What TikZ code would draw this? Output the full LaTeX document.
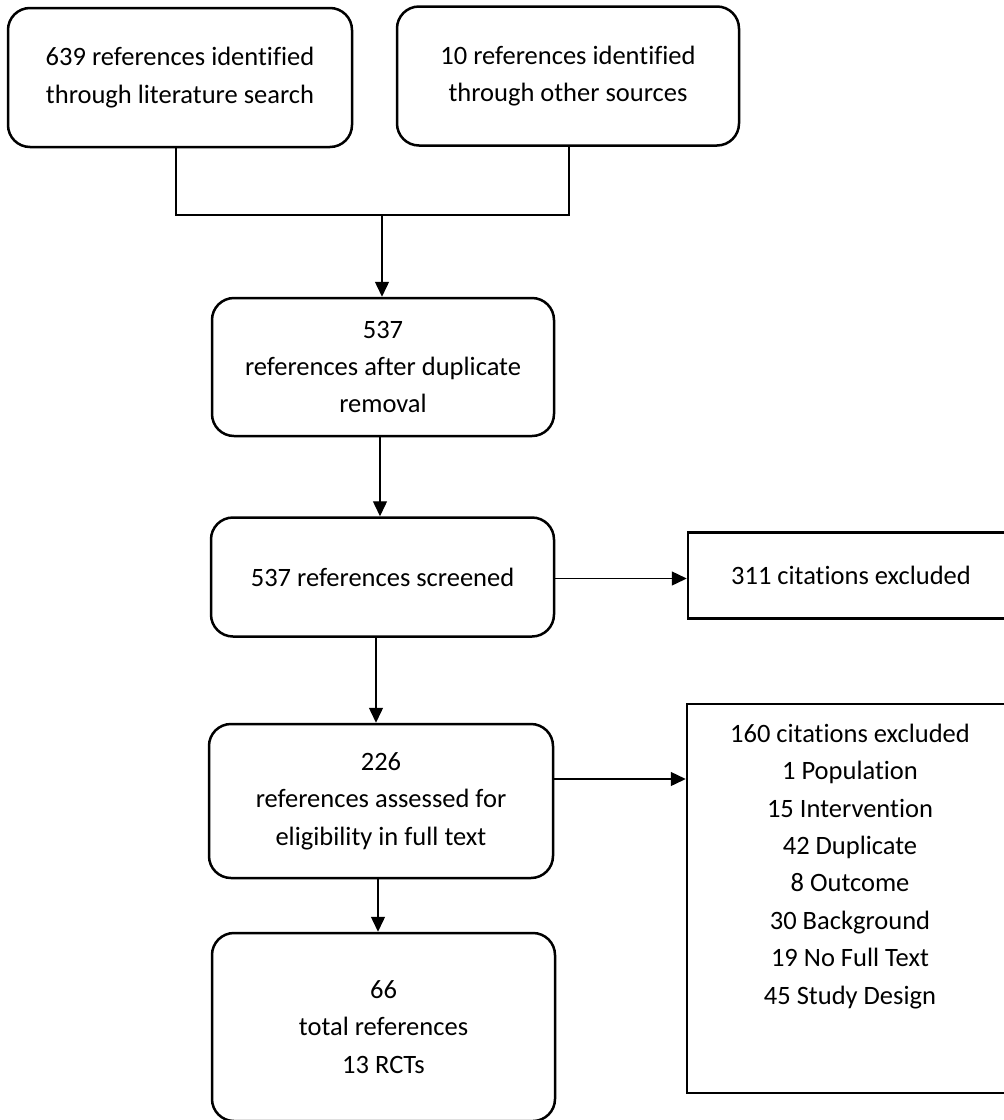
\documentclass[tikz,border=0pt]{standalone}
\usepackage{fontspec}
\setmainfont[Ligatures=NoCommon]{Carlito}
\usetikzlibrary{arrows.meta}
\begin{document}
\begin{tikzpicture}[x=1pt,y=-1pt,
  every node/.style={font=\fontsize{26.5}{37.4}\selectfont, text=black},
  rbox/.style={draw=black, line width=2.5pt, rounded corners=22pt, align=center, inner sep=0pt},
  sbox/.style={draw=black, line width=2.5pt, align=center, inner sep=0pt},
  thinline/.style={draw=black, line width=1.1pt},
  arr/.style={draw=black, line width=1.4pt, -{Triangle[length=15pt,width=14pt]}}
]
\useasboundingbox (0,0) rectangle (1004,1120);
\clip (0,0) rectangle (1004,1120);
\fill[white] (0,0) rectangle (1004,1120);

\node[rbox, minimum width=344pt, minimum height=139pt] (b1) at (180,77.5)
  {639 references identified\\through literature search};
\node[rbox, minimum width=342pt, minimum height=139pt] (b2) at (568,76)
  {10 references identified\\through other sources};
\node[rbox, minimum width=342pt, minimum height=138pt] (b3) at (383,367)
  {537\\references after duplicate\\removal};
\node[rbox, minimum width=343pt, minimum height=119pt] (b4) at (382.5,577)
  {537 references screened};
\node[sbox, minimum width=326pt, minimum height=86pt] (b5) at (851,575.5)
  {311 citations excluded};
\node[rbox, minimum width=344pt, minimum height=154pt] (b6) at (381,801)
  {226\\references assessed for\\eligibility in full text};
\node[sbox, minimum width=326pt, minimum height=389pt,
  label={[anchor=north, align=center, inner sep=0pt, yshift=-21pt,
          font=\fontsize{26.5}{37.4}\selectfont]north:{160 citations excluded\\1 Population\\15 Intervention\\42 Duplicate\\8 Outcome\\30 Background\\19 No Full Text\\45 Study Design}}]
  (b7) at (850,898.5) {};
\node[rbox, minimum width=343pt, minimum height=188pt] (b8) at (383.5,1027)
  {66\\total references\\13 RCTs};

\coordinate (j) at (382,215);
\draw[thinline] ([xshift=-4pt]b1.south) |- (j) -| ([xshift=1pt]b2.south);
\draw[arr] (j) -- (j |- b3.north);
\draw[arr] ([xshift=-3pt]b3.south) -- ([xshift=-3pt]b3.south |- b4.north);
\draw[arr] ([yshift=-1.5pt]b4.east) -- ([yshift=-1.5pt]b4.east -| b5.west);
\draw[arr] ([xshift=-6.5pt]b4.south) -- ([xshift=-6.5pt]b4.south |- b6.north);
\draw[arr] ([yshift=22pt]b6.east) -- ([yshift=22pt]b6.east -| b7.west);
\draw[arr] ([xshift=-3pt]b6.south) -- ([xshift=-3pt]b6.south |- b8.north);
\end{tikzpicture}
\end{document}
